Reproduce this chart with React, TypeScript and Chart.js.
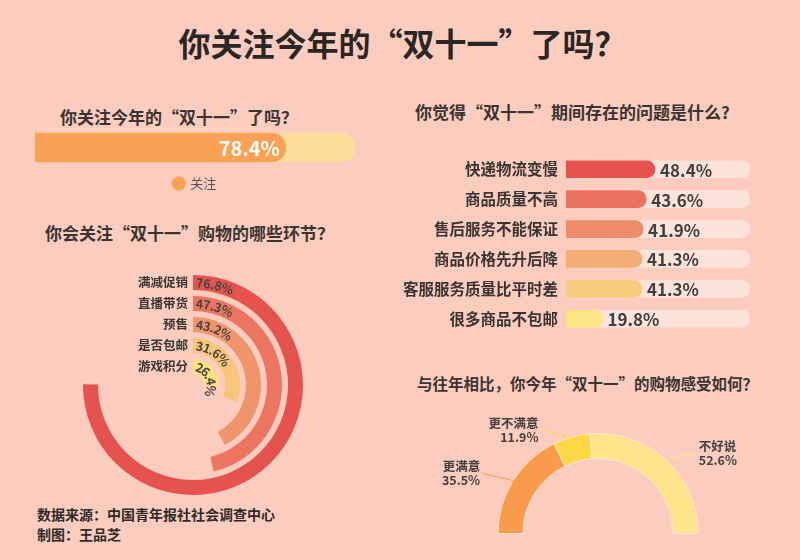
import React, { useEffect, useRef } from "react";
import { Chart, registerables } from "chart.js";
Chart.register(...registerables);

const FONT = "'Noto Sans CJK SC', 'Noto Sans', sans-serif";
Chart.defaults.font.family = FONT;

// ---------- data ----------
const attentionLabels = ["关注"];
const attentionValues = [78.4];

const stageLabels = ["满减促销", "直播带货", "预售", "是否包邮", "游戏积分"];
const stageValues = [76.8, 47.3, 43.2, 31.6, 26.4];

const problemLabels = [
  "快递物流变慢",
  "商品质量不高",
  "售后服务不能保证",
  "商品价格先升后降",
  "客服服务质量比平时差",
  "很多商品不包邮",
];
const problemValues = [48.4, 43.6, 41.9, 41.3, 41.3, 19.8];

const feelLabels = ["更满意", "更不满意", "不好说"];
const feelValues = [35.5, 11.9, 52.6];

// ---------- styles ----------
const BG = "#FCCDBE";
const TEXT = "#3A3533";
const attentionColor = "#F9A154";
const attentionTrack = "#FFDD9B";
const ringColors = ["#E5534F", "#EB7560", "#F0946B", "#F7C67A", "#FBE382"];
const problemColors = ["#E5534F", "#EA725E", "#EF8C68", "#F3AD74", "#F7CA7C", "#FCE684"];
const problemTrack = "#FEE3DA";
const feelColors = ["#FA9A4B", "#FDD845", "#FFE48B"];

type Box = { left: number; top: number; width: number; height: number; make: () => any };

function ChartBox({ left, top, width, height, make }: Box) {
  const ref = useRef<HTMLCanvasElement>(null);
  useEffect(() => {
    const chart = new Chart(ref.current as HTMLCanvasElement, make());
    return () => chart.destroy();
  }, []);
  return (
    <canvas
      ref={ref}
      width={width}
      height={height}
      style={{ position: "absolute", left, top, width, height }}
    />
  );
}

// ---------- chart configs ----------
function attentionConfig() {
  return {
    type: "bar",
    data: {
      labels: [""],
      datasets: [
        {
          label: attentionLabels[0],
          data: attentionValues,
          backgroundColor: attentionColor,
          borderRadius: 15,
          borderSkipped: "start",
          barThickness: 29,
          grouped: false,
        },
        {
          label: "track",
          data: [100],
          backgroundColor: attentionTrack,
          borderRadius: 15,
          borderSkipped: "start",
          barThickness: 29,
          grouped: false,
        },
      ],
    },
    options: {
      indexAxis: "y",
      animation: false,
      responsive: false,
      events: [],
      layout: { padding: 0 },
      scales: {
        x: { display: false, min: 0, max: 100 },
        y: { display: false },
      },
      plugins: {
        tooltip: { enabled: false },
        legend: {
          position: "bottom",
          labels: {
            filter: (item: any) => item.datasetIndex === 0,
            usePointStyle: true,
            pointStyle: "circle",
            boxWidth: 10,
            boxHeight: 10,
            color: "#555",
            padding: 10,
            font: { size: 13, family: FONT },
          },
        },
      },
    },
    plugins: [
      {
        id: "attValue",
        afterDatasetsDraw(chart: any) {
          const ctx = chart.ctx;
          const meta = chart.getDatasetMeta(0);
          meta.data.forEach((el: any, i: number) => {
            ctx.save();
            ctx.font = `bold 20px ${FONT}`;
            ctx.fillStyle = "#FFFFFF";
            ctx.textAlign = "right";
            ctx.textBaseline = "middle";
            ctx.fillText(attentionValues[i] + "%", el.x - 6, el.y + 1);
            ctx.restore();
          });
        },
      },
    ],
  };
}

function drawArcText(ctx: CanvasRenderingContext2D, text: string, cx: number, cy: number, r: number, start: number) {
  let a = start;
  for (const ch of text) {
    const w = ctx.measureText(ch).width;
    const mid = a + w / 2 / r;
    ctx.save();
    ctx.translate(cx + r * Math.cos(mid), cy + r * Math.sin(mid));
    ctx.rotate(mid + Math.PI / 2);
    ctx.fillText(ch, 0, 0);
    ctx.restore();
    a += w / r;
  }
}

function stageConfig() {
  const datasets: any[] = [];
  stageValues.forEach((v, i) => {
    if (i > 0) {
      datasets.push({
        label: "gap",
        data: [1],
        backgroundColor: ["rgba(0,0,0,0)"],
        borderWidth: 0,
        weight: 6,
      });
    }
    datasets.push({
      label: stageLabels[i],
      data: [v, 100 - v],
      backgroundColor: [ringColors[i], "rgba(0,0,0,0)"],
      borderWidth: 0,
      weight: 15,
    });
  });
  return {
    type: "doughnut",
    data: { labels: ["value", "rest"], datasets },
    options: {
      animation: false,
      responsive: false,
      events: [],
      cutout: 11,
      circumference: 352,
      layout: { padding: 10 },
      plugins: { legend: { display: false }, tooltip: { enabled: false } },
    },
    plugins: [
      {
        id: "stageLabels",
        afterDatasetsDraw(chart: any) {
          const ctx = chart.ctx;
          let k = 0;
          chart.data.datasets.forEach((ds: any, di: number) => {
            if (ds.label === "gap") return;
            const arc = chart.getDatasetMeta(di).data[0];
            const r = (arc.innerRadius + arc.outerRadius) / 2;
            ctx.save();
            ctx.font = `bold 12.5px ${FONT}`;
            ctx.fillStyle = TEXT;
            ctx.textAlign = "right";
            ctx.textBaseline = "middle";
            ctx.fillText(stageLabels[k], arc.x - 5, arc.y - r);
            ctx.fillStyle = "#4A4543";
            ctx.textAlign = "center";
            drawArcText(ctx, stageValues[k] + "%", arc.x, arc.y, r, arc.startAngle + 3 / r);
            ctx.restore();
            k++;
          });
        },
      },
    ],
  };
}

function problemConfig() {
  return {
    type: "bar",
    data: {
      labels: problemLabels,
      datasets: [
        {
          label: "value",
          data: problemValues,
          backgroundColor: problemColors,
          borderRadius: 9,
          borderSkipped: "start",
          barThickness: 17,
          grouped: false,
        },
        {
          label: "track",
          data: problemLabels.map(() => 100),
          backgroundColor: problemTrack,
          borderRadius: 9,
          borderSkipped: "start",
          barThickness: 17,
          grouped: false,
        },
      ],
    },
    options: {
      indexAxis: "y",
      animation: false,
      responsive: false,
      events: [],
      layout: { padding: { right: 10, top: 0, bottom: 0, left: 0 } },
      scales: {
        x: { display: false, min: 0, max: 100 },
        y: {
          grid: { display: false, drawTicks: false },
          border: { display: false },
          ticks: {
            color: TEXT,
            padding: 8,
            font: { size: 15.5, weight: "bold", family: FONT },
          },
          afterFit: (s: any) => {
            s.width = 166;
          },
        },
      },
      plugins: { legend: { display: false }, tooltip: { enabled: false } },
    },
    plugins: [
      {
        id: "probValues",
        afterDatasetsDraw(chart: any) {
          const ctx = chart.ctx;
          const meta = chart.getDatasetMeta(0);
          meta.data.forEach((el: any, i: number) => {
            ctx.save();
            ctx.font = `bold 17px ${FONT}`;
            ctx.fillStyle = "#404040";
            ctx.textAlign = "left";
            ctx.textBaseline = "middle";
            ctx.fillText(problemValues[i] + "%", el.x + 5, el.y + 1);
            ctx.restore();
          });
        },
      },
    ],
  };
}

function feelConfig() {
  return {
    type: "doughnut",
    data: {
      labels: feelLabels,
      datasets: [
        {
          data: feelValues,
          backgroundColor: feelColors,
          borderColor: "rgba(255,236,215,0.9)",
          borderWidth: 1,
        },
      ],
    },
    options: {
      animation: false,
      responsive: false,
      events: [],
      rotation: -90,
      circumference: 180,
      cutout: "75%",
      layout: { padding: { left: 67, right: 81, top: 33, bottom: 16 } },
      plugins: { legend: { display: false }, tooltip: { enabled: false } },
    },
    plugins: [
      {
        id: "feelLabels",
        afterDatasetsDraw(chart: any) {
          const ctx = chart.ctx;
          const meta = chart.getDatasetMeta(0);
          meta.data.forEach((arc: any, i: number) => {
            const mid = (arc.startAngle + arc.endAngle) / 2;
            const px = arc.x + arc.outerRadius * Math.cos(mid);
            const py = arc.y + arc.outerRadius * Math.sin(mid);
            const dir = Math.cos(mid) < 0 ? -1 : 1;
            const ex = px + dir * 30;
            const ey = py - 7;
            ctx.save();
            ctx.strokeStyle = feelColors[i];
            ctx.lineWidth = 1;
            ctx.beginPath();
            ctx.moveTo(px, py);
            ctx.lineTo(ex, ey);
            ctx.stroke();
            ctx.font = `bold 12.5px ${FONT}`;
            ctx.fillStyle = "#45403E";
            ctx.textAlign = dir < 0 ? "right" : "left";
            ctx.textBaseline = "middle";
            ctx.fillText(feelLabels[i], ex + dir * 3, ey - 7);
            ctx.fillText(feelValues[i] + "%", ex + dir * 3, ey + 7);
            ctx.restore();
          });
        },
      },
    ],
  };
}

function Text({ left, top, size, children, color = TEXT, width, align }: any) {
  return (
    <div
      style={{
        position: "absolute",
        left,
        top: top - size / 2,
        width,
        textAlign: align || "left",
        fontSize: size,
        lineHeight: `${size}px`,
        fontWeight: "bold",
        fontFamily: FONT,
        color,
        whiteSpace: "nowrap",
      }}
    >
      {children}
    </div>
  );
}

export default function App() {
  return (
    <div
      style={{
        position: "absolute",
        left: 0,
        top: 0,
        width: 800,
        height: 560,
        background: BG,
        overflow: "hidden",
      }}
    >
      <Text left={0} width={805} align="center" top={42} size={32} color="#2A2624">
        你关注今年的“双十一”了吗？
      </Text>
      <Text left={60} top={116} size={17}>
        你关注今年的“双十一”了吗？
      </Text>
      <Text left={45} top={232} size={17}>
        你会关注“双十一”购物的哪些环节？
      </Text>
      <Text left={415} top={111} size={17}>
        你觉得“双十一”期间存在的问题是什么?
      </Text>
      <Text left={417} top={384} size={15.5}>
        与往年相比，你今年“双十一”的购物感受如何？
      </Text>
      <Text left={37} top={514} size={14} color="#2F2B29">
        数据来源：中国青年报社社会调查中心
      </Text>
      <Text left={37} top={534} size={14} color="#2F2B29">
        制图：王品芝
      </Text>

      <ChartBox left={35} top={128} width={320} height={72} make={attentionConfig} />
      <ChartBox left={73} top={265} width={240} height={240} make={stageConfig} />
      <ChartBox left={400} top={137} width={360} height={214} make={problemConfig} />
      <ChartBox left={430} top={400} width={350} height={150} make={feelConfig} />
    </div>
  );
}
